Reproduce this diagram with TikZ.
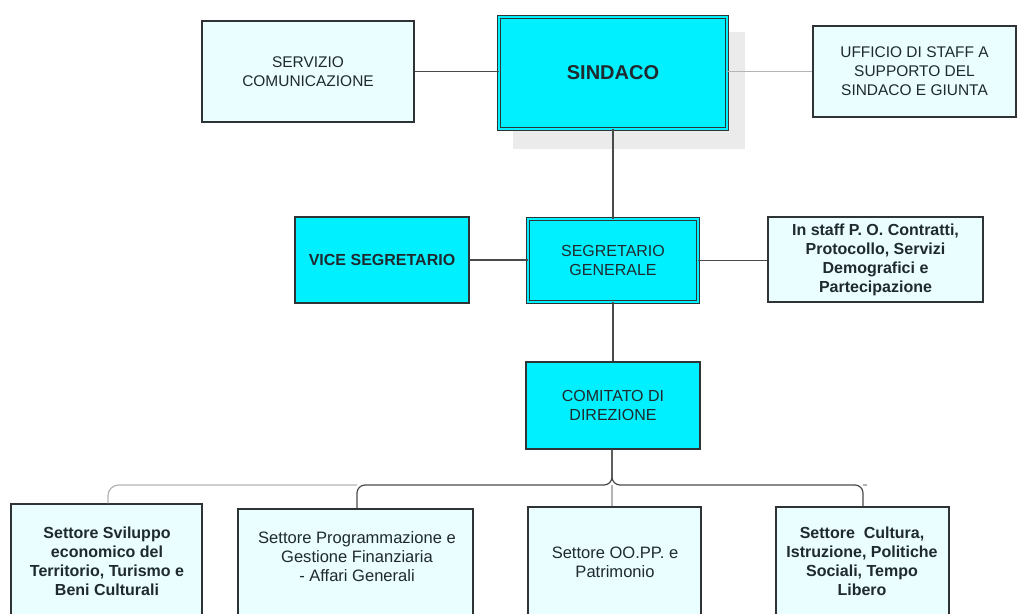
\documentclass[tikz,border=0pt]{standalone}
\usepackage{fontspec}
\setmainfont{Liberation Sans}
\definecolor{cy}{HTML}{00F0FF}
\definecolor{lc}{HTML}{EAFDFF}
\definecolor{bd}{HTML}{2E3436}
\definecolor{tx}{HTML}{1F2A2E}
\definecolor{sh}{HTML}{EBEBEB}
\definecolor{ln}{HTML}{4A4A4A}
\definecolor{lg}{HTML}{B4B4B4}
\tikzset{
  lightbox/.style={draw=bd, line width=0.8pt, fill=lc, inner sep=0pt, text=tx, align=center},
  cyanbox/.style={draw=bd, line width=0.8pt, fill=cy, inner sep=0pt, text=tx, align=center},
  dblbox/.style={draw=bd, line width=0.6pt, double=cy, double distance=1.8pt, fill=cy, inner sep=0pt, text=tx, align=center},
  txt/.style={inner sep=0pt, text=tx, align=center},
  dk/.style={draw=ln, line width=0.9pt},
  lt/.style={draw=lg, line width=0.9pt},
}
\begin{document}
\begin{tikzpicture}[x=0.75pt, y=-0.75pt]
\useasboundingbox (0,0) rectangle (1019,613);
\clip (0,0) rectangle (1019,613);
\fill[white] (0,0) rectangle (1019,613);
% shadow of SINDACO
\fill[sh] (513,32) rectangle (745,149);
% top row
\node[lightbox, minimum width=159pt, minimum height=75.75pt, font=\fontsize{11.6}{14.25}\selectfont] (serv) at (308,71.5) {SERVIZIO\\COMUNICAZIONE};
\node[dblbox, minimum width=171pt, minimum height=84pt, font=\fontsize{15}{18}\selectfont\bfseries] (sind) at (613,73) {SINDACO};
\node[lightbox, minimum width=152.25pt, minimum height=68.25pt, font=\fontsize{11.6}{14.25}\selectfont] (uff) at (914.5,71.5) {UFFICIO DI STAFF A\\SUPPORTO DEL\\SINDACO E GIUNTA};
% second row
\node[cyanbox, minimum width=130.5pt, minimum height=64.5pt, font=\fontsize{12}{14.25}\selectfont\bfseries] (vice) at (382,260) {VICE SEGRETARIO};
\node[dblbox, minimum width=127.5pt, minimum height=62.25pt, font=\fontsize{12}{14.25}\selectfont] (seg) at (613,260.5) {SEGRETARIO\\GENERALE};
\node[lightbox, minimum width=161.25pt, minimum height=63.75pt, font=\fontsize{12}{14.25}\selectfont\bfseries] (staff) at (875.5,259.5) {In staff P. O. Contratti,\\Protocollo, Servizi\\Demografici e\\Partecipazione};
% third row
\node[cyanbox, minimum width=130.5pt, minimum height=65.25pt, font=\fontsize{12}{14.25}\selectfont] (com) at (613,405.5) {COMITATO DI\\DIREZIONE};
% bottom boxes
\node[lightbox, minimum width=143.25pt, minimum height=94.5pt] (b1) at (106.5,567) {};
\node[lightbox, minimum width=176.25pt, minimum height=90.75pt] (b2) at (355.5,569.5) {};
\node[lightbox, minimum width=129.75pt, minimum height=92.25pt] (b3) at (614.5,568.5) {};
\node[lightbox, minimum width=129.75pt, minimum height=92.25pt] (b4) at (862.5,568.5) {};
\node[txt, font=\fontsize{12}{14.25}\selectfont\bfseries] (b1t) at (107,561) {Settore Sviluppo\\economico del\\Territorio, Turismo e\\Beni Culturali};
\node[txt, font=\fontsize{12.4}{14.25}\selectfont] (b2t) at (357,557) {Settore Programmazione e\\Gestione Finanziaria\\- Affari Generali};
\node[txt, font=\fontsize{12.4}{14.25}\selectfont] (b3t) at (615,562) {Settore OO.PP. e\\Patrimonio};
\node[txt, font=\fontsize{12}{14.25}\selectfont\bfseries] (b4t) at (862,561) {Settore~ Cultura,\\Istruzione, Politiche\\Sociali, Tempo\\Libero};
% connectors top
\draw[dk] (serv.east) -- (serv.east -| sind.west);
\draw[lt] (uff.west -| sind.east) -- (uff.west);
\draw[dk] (sind.south) -- (seg.north);
\draw[dk] (vice.east) -- (vice.east -| seg.west);
\draw[dk] (seg.east) -- (seg.east -| staff.west);
\draw[dk] (seg.south) -- (com.north);
% bus
\coordinate (j) at (612,485);
\coordinate (d1) at (108,485);
\coordinate (d2) at (357,485);
\coordinate (d4) at (863,485);
\draw[lt, rounded corners=8pt] (d2) -- (d1) -- (d1 |- b1.north);
\draw[lt] (j) -- (j |- b3.north);
\draw[lt] (d4) -- ++(4,0);
\draw[dk, rounded corners=6pt] (com.south -| j) -- (j) -- (d2) -- (d2 |- b2.north);
\draw[dk, rounded corners=6pt] (com.south -| j) -- (j) -- (d4) -- (d4 |- b4.north);
\end{tikzpicture}
\end{document}
